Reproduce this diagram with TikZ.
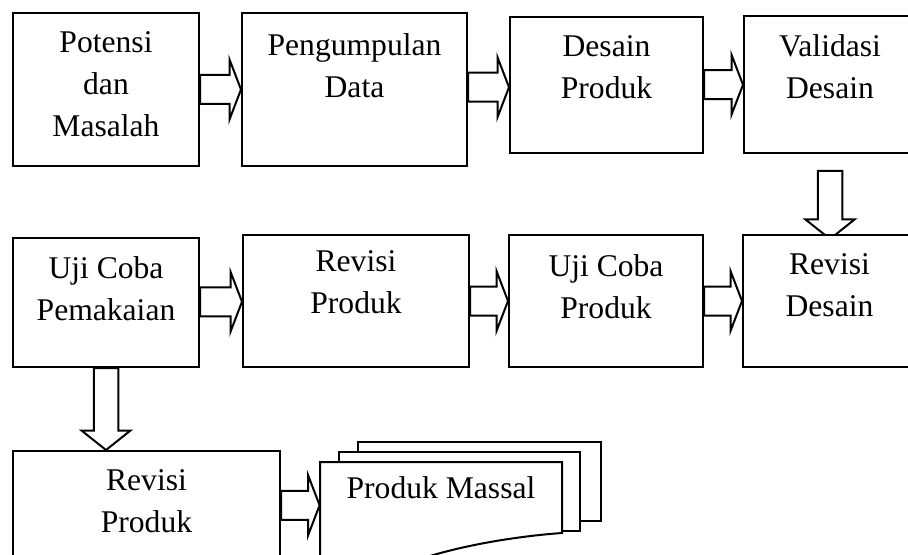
\documentclass[tikz,border=0pt]{standalone}
\usepackage{fontspec}
\setmainfont{Liberation Serif}
\usetikzlibrary{positioning,calc,fit,backgrounds}
\tikzset{
  box/.style={draw, line width=1pt, fill=white, inner sep=0pt},
  boxtext/.style={align=center, inner sep=0pt, font=\fontsize{15.8}{21}\selectfont},
  blockarrow/.style={draw, line width=1pt, fill=white, line join=miter},
}
% horizontal block arrow: tail at #1, tip at #2
\newcommand{\rightblock}[2]{%
  \path[blockarrow] let \p1=(#1), \p2=(#2), \p3=($(#1)!0.5!(#2)$) in
    (\x1,\y3+7.25pt) -- (\x2-5.75pt,\y3+7.25pt) -- (\x2-5.75pt,\y3+15pt)
    -- (\x2,\y3) -- (\x2-5.75pt,\y3-15pt) -- (\x2-5.75pt,\y3-7.25pt)
    -- (\x1,\y3-7.25pt) -- cycle;}
% vertical block arrow: tail at #1, tip at height of #2
\newcommand{\downblock}[2]{%
  \path[blockarrow] let \p1=(#1), \p2=(#2) in
    (\x1-6.125pt,\y1) -- (\x1-6.125pt,\y2+9.75pt) -- (\x1-12.25pt,\y2+9.75pt)
    -- (\x1,\y2) -- (\x1+12.25pt,\y2+9.75pt) -- (\x1+6.125pt,\y2+9.75pt)
    -- (\x1+6.125pt,\y1) -- cycle;}

\begin{document}
\begin{tikzpicture}[x=0.5pt, y=-0.5pt]
  \useasboundingbox (0,0) rectangle (908,555);

  % first row
  \node[box, fit={(13,13) (199,166)}]   (potensi) {};
  \node[box, fit={(242,13) (467,166)}]  (kumpul) {};
  \node[box, fit={(510,17) (703,153)}]  (desain) {};
  \node[box, fit={(744,16) (916,153)}]  (validasi) {};

  % second row
  \node[box, fit={(13,238) (199,367)}]  (ujipakai) {};
  \node[box, fit={(243,235) (469,367)}] (revproduk) {};
  \node[box, fit={(509,235) (703,367)}] (ujiproduk) {};
  \node[box, fit={(743,235) (916,367)}] (revdesain) {};

  % third row
  \node[box, fit={(13,451) (280,562)}]  (revproduk2) {};
  \node[fit={(320,462) (562,546)}, inner sep=0pt] (massal) {};
  \draw[box] (358,442) rectangle (601,521);
  \draw[box] (339,452) rectangle (580,531);
  \draw[box] (320,570) -- (320,462) -- (562,462) -- (562,533)
    .. controls (520,536) and (470,544) .. (430,556)
    .. controls (390,568) and (350,572) .. (320,570);

  % texts
  \node[boxtext, below=9.75pt of potensi.north]    (potensi-t)    {Potensi\\dan\\Masalah};
  \node[boxtext, below=10.5pt of kumpul.north]     (kumpul-t)     {Pengumpulan\\Data};
  \node[boxtext, below=9.5pt of desain.north]      (desain-t)     {Desain\\Produk};
  \node[boxtext, below=9.5pt of validasi.north]    (validasi-t)   {Validasi\\Desain};
  \node[boxtext, below=9.5pt of ujipakai.north]    (ujipakai-t)   {Uji Coba\\Pemakaian};
  \node[boxtext, below=8pt of revproduk.north]     (revproduk-t)  {Revisi\\Produk};
  \node[boxtext, below=10pt of ujiproduk.north]    (ujiproduk-t)  {Uji Coba\\Produk};
  \node[boxtext, below=9.75pt of revdesain.north]  (revdesain-t)  {Revisi\\Desain};
  \node[boxtext, below=9.75pt of revproduk2.north] (revproduk2-t) {Revisi\\Produk};
  \node[boxtext, below=7.2pt of massal.north]      (massal-t)     {Produk Massal};

  \begin{scope}[on background layer]
    \rightblock{potensi.east}{kumpul.west}
    \rightblock{kumpul.east}{desain.west}
    \rightblock{desain.east}{validasi.west}
    \downblock{$(validasi.south)+(0,17)$}{$(revdesain.north)+(0,5)$}
    \rightblock{ujipakai.east}{revproduk.west}
    \rightblock{revproduk.east}{ujiproduk.west}
    \rightblock{ujiproduk.east}{revdesain.west}
    \downblock{ujipakai.south}{revproduk2.north}
    \rightblock{revproduk2.east}{massal.west}
  \end{scope}
\end{tikzpicture}
\end{document}
